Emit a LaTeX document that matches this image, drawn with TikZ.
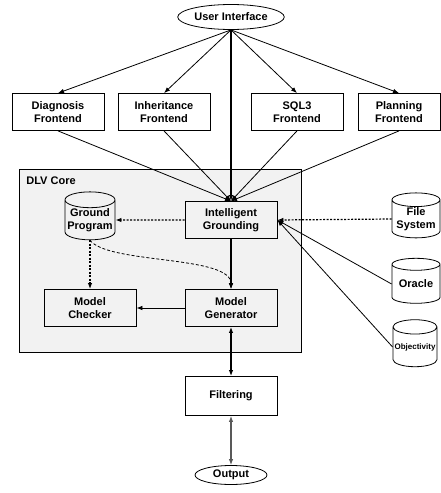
\documentclass[tikz,border=0pt]{standalone}
\usepackage{fontspec}
\setmainfont{Liberation Sans}
\usetikzlibrary{calc}
\usetikzlibrary{arrows.meta}
\usetikzlibrary{shapes.geometric}

\definecolor{coregray}{HTML}{F2F2F2}

\begin{document}
\begin{tikzpicture}[x=1pt, y=-1pt, line width=0.8pt,
  font=\fontsize{11}{13.5}\selectfont\bfseries,
  box/.style={draw, fill=white, minimum width=92pt, minimum height=37pt, align=center, inner sep=1pt},
  corebox/.style={box, fill=coregray},
  disk/.style={draw, fill=white, cylinder, shape border rotate=90, aspect=0.35, minimum width=48pt, minimum height=45pt, align=center, inner sep=0pt},
  oval/.style={draw, fill=white, ellipse, inner sep=1pt},
  arr/.style={-{Latex[length=6pt,width=4.5pt]}},
  biarr/.style={{Latex[length=6pt,width=4.5pt]}-{Latex[length=6pt,width=4.5pt]}},
  dots/.style={dash pattern=on 2pt off 1.5pt}]
\useasboundingbox (0,0) rectangle (441,493);

% the core
\draw[fill=coregray] (19,169) rectangle (301,352);
\node[anchor=north west, inner sep=0pt] (corename) at (26,176) {DLV Core};

\node[oval, minimum width=94pt, minimum height=25pt] (ui) at (231,17) {User Interface};

\foreach \x/\n/\t/\w in {58/diag/Diagnosis/92, 164/inh/Inheritance/92, 297/sql/SQL3/92, 399/plan/Planning/82}
  \node[box, minimum width=\w pt] (\n) at (\x,112) {\t\\Frontend};

\node[corebox] (ig) at (231,220) {Intelligent\\Grounding};
\node[disk, fill=coregray, minimum width=50pt] (gp) at (90,220) {Ground\\Program};
\node[corebox] (mc) at (90,308) {Model\\Checker};
\node[corebox] (mg) at (231,308) {Model\\Generator};

\node[disk] (fs) at (416,219) {File\\System};
\node[disk] (ora) at (416,284) {Oracle};
\node[disk, minimum width=44pt, minimum height=47pt, font=\fontsize{8}{9.5}\selectfont\bfseries] (obj) at (415,347) {Objectivity};

\node[box, minimum height=39pt] (filt) at (231,396) {Filtering};
\node[oval, minimum width=72pt, minimum height=19pt] (out) at (231,475) {Output};

% frontends
\foreach \n in {diag, inh, sql, plan} {
  \draw[arr] (ui.south) -- (\n.north);
  \draw[arr] (\n.south) -- (ig.north);
}
\draw[arr, line width=2pt] (ui.south) -- (ig.north);

% inside the core
\draw[arr, dots, line width=1.2pt] (ig.west) -- (gp.east);
\draw[arr, dots, line width=1.5pt] (gp.south) -- (mc.north);
\draw[arr, dash pattern=on 3pt off 2pt] (gp.south) .. controls +(18,24) and +(0,-34) .. (mg.north);
\draw[arr, line width=1.5pt] (ig.south) -- (mg.north);
\draw[arr] (mg.west) -- (mc.east);

% data sources
\draw[arr, dots, line width=1.2pt] (fs.west) -- (ig.east);
\draw[arr] (ora.west) -- (ig.east);
\draw[arr] (obj.west) -- (ig.east);

\draw[biarr, line width=1.5pt] (mg.south) -- (filt.north);
\draw[biarr, draw=black!65, line width=1.1pt] (filt.south) -- (out.north);
\end{tikzpicture}
\end{document}
